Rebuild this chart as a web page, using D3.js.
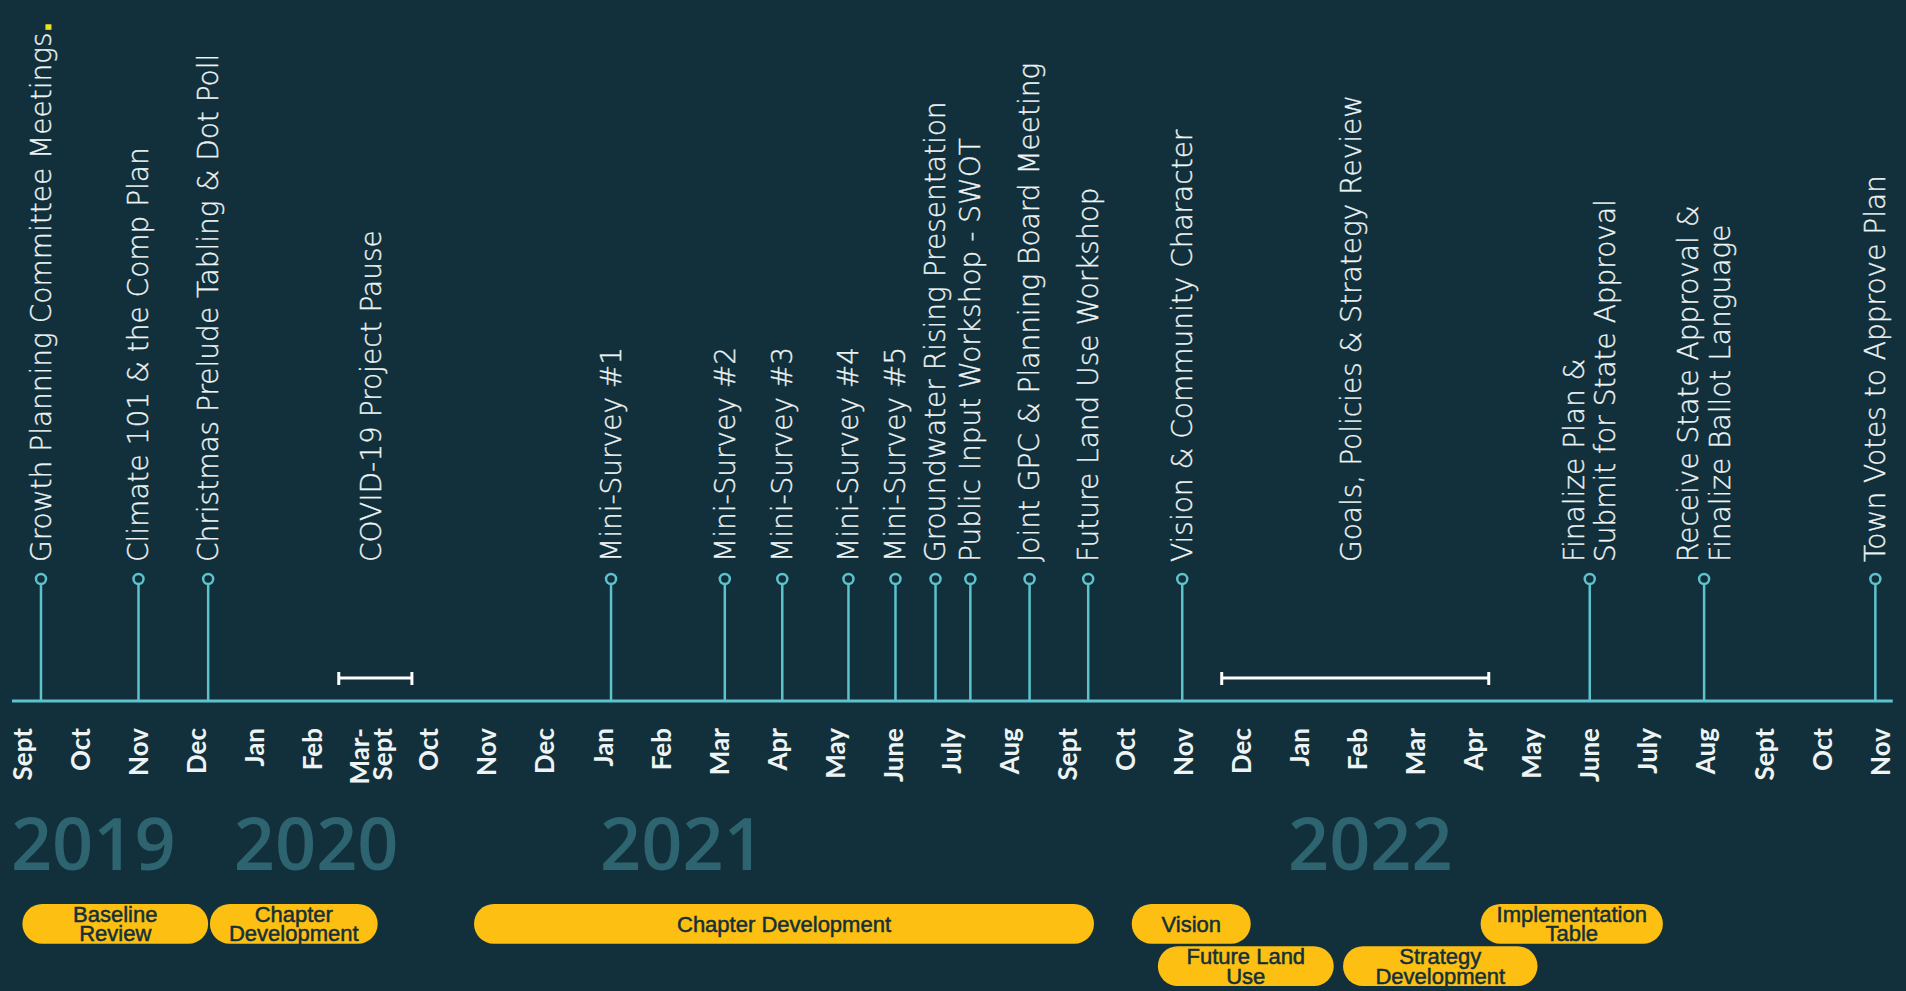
<!DOCTYPE html>
<html>
<head>
<meta charset="utf-8">
<script src="https://cdn.jsdelivr.net/npm/d3@7"></script>
<style>
  html, body { margin: 0; padding: 0; background: #12303b; overflow: hidden; }
  svg { display: block; }
</style>
</head>
<body>
<svg id="chart"></svg>
<script>
// month ticks along the timeline ("|" splits a label onto two lines)
const monthLabels = ['Sept', 'Oct', 'Nov', 'Dec', 'Jan', 'Feb', 'Mar-|Sept', 'Oct', 'Nov', 'Dec',
  'Jan', 'Feb', 'Mar', 'Apr', 'May', 'June', 'July', 'Aug', 'Sept', 'Oct', 'Nov', 'Dec',
  'Jan', 'Feb', 'Mar', 'Apr', 'May', 'June', 'July', 'Aug', 'Sept', 'Oct', 'Nov'];

const years = ['2019', '2020', '2021', '2022'];
const yearAt = [1.22, 5.06, 11.37, 23.22];

// milestones: position in month-steps from the first tick
const milestoneAt = [0.32, 2.0, 3.2, 10.14, 12.1, 13.09, 14.23, 15.04, 15.73, 16.33,
  17.35, 18.36, 19.98, 27.0, 28.97, 31.92];
const milestoneText = [
  'Growth Planning Committee Meetings',
  'Climate 101 & the Comp Plan',
  'Christmas Prelude Tabling & Dot Poll',
  'Mini-Survey #1',
  'Mini-Survey #2',
  'Mini-Survey #3',
  'Mini-Survey #4',
  'Mini-Survey #5',
  'Groundwater Rising Presentation',
  'Public Input Workshop - SWOT',
  'Joint GPC & Planning Board Meeting',
  'Future Land Use Workshop',
  'Vision & Community Character',
  'Finalize Plan &|Submit for State Approval',
  'Receive State Approval &|Finalize Ballot Language',
  'Town Votes to Approve Plan'
];

// spans drawn as brackets
const spanStart = [5.45, 20.66];
const spanEnd = [6.71, 25.26];
const spanText = ['COVID-19 Project Pause', 'Goals, Policies & Strategy Review'];

// project phases (pills)
const phaseText = ['Baseline|Review', 'Chapter|Development', 'Chapter Development', 'Vision',
  'Future Land|Use', 'Strategy|Development', 'Implementation|Table'];
const phaseStart = [0.0, 3.23, 7.78, 19.11, 19.56, 22.75, 25.12];
const phaseEnd = [3.2, 6.12, 18.46, 21.16, 22.59, 26.1, 28.26];
const phaseRow = [0, 0, 0, 0, 1, 1, 0];

const W = 1906, H = 991;
const COLORS = {
  bg: '#12303b',
  axis: '#5cc3cc',
  text: '#eef3f3',
  year: '#2e6470',
  pill: '#fdbf12',
  pillText: '#12303b'
};

const axisY = 701;
const markerY = 579;
const labelBase = 562;

const svg = d3.select('#chart')
  .attr('width', W)
  .attr('height', H);

svg.append('rect')
  .attr('width', W)
  .attr('height', H)
  .attr('fill', COLORS.bg);

const x = d3.scaleLinear()
  .domain([0, monthLabels.length - 1])
  .range([22.4, 1880]);

const rowY = d3.scaleBand()
  .domain([0, 1])
  .range([904, 986])
  .paddingInner(0.06);

// month axis
const axis = d3.axisBottom(x)
  .tickValues(d3.range(monthLabels.length))
  .tickSize(0)
  .tickFormat(i => monthLabels[i]);

const axisG = svg.append('g')
  .attr('transform', `translate(0,${axisY})`)
  .call(axis);

axisG.select('.domain').remove();

axisG.selectAll('.tick text')
  .attr('fill', COLORS.text)
  .style('font-family', 'Lato, "DejaVu Sans", sans-serif')
  .style('font-weight', 700)
  .style('font-size', '26px')
  .attr('transform', 'rotate(-90)')
  .attr('text-anchor', 'end')
  .attr('y', 0)
  .attr('x', -27)
  .attr('dy', null)
  .each(function(i) {
    const parts = monthLabels[i].split('|');
    const t = d3.select(this).text(null);
    parts.forEach((p, k) => {
      t.append('tspan')
        .attr('x', -27)
        .attr('dy', k === 0 ? `${0.35 - (parts.length - 1) * 0.45}em` : '0.9em')
        .text(p);
    });
  });

svg.append('line')
  .attr('x1', x(-0.18))
  .attr('x2', x(32.22))
  .attr('y1', axisY)
  .attr('y2', axisY)
  .attr('stroke', COLORS.axis)
  .attr('stroke-width', 3);

// years
svg.append('g')
  .selectAll('text')
  .data(years)
  .enter()
  .append('text')
  .attr('x', (d, i) => x(yearAt[i]))
  .attr('y', 870)
  .attr('text-anchor', 'middle')
  .attr('fill', COLORS.year)
  .style('font-family', '"Open Sans", "Noto Sans", sans-serif')
  .style('font-weight', 600)
  .style('font-size', '72px')
  .text(d => d);

// rotated labels, text starts just above the markers
const addLabel = (g, text, withDot) => {
  const parts = text.split('|');
  const t = g.append('text')
    .attr('transform', 'rotate(-90)')
    .attr('text-anchor', 'start')
    .attr('fill', COLORS.text)
    .attr('stroke', COLORS.text)
    .attr('stroke-width', 0.35)
    .style('font-family', '"DejaVu Sans", sans-serif')
    .style('font-weight', 200)
    .style('font-size', '28px');
  parts.forEach((p, k) => {
    t.append('tspan')
      .attr('x', 0)
      .attr('dy', k === 0 ? `${0.35 - (parts.length - 1) * 0.56}em` : '1.12em')
      .text(p);
  });
  if (withDot) {
    t.append('tspan')
      .attr('fill', '#f2e21c')
      .attr('stroke', '#f2e21c')
      .style('font-weight', 700)
      .text('.');
  }
};

const stems = svg.append('g')
  .selectAll('g')
  .data(milestoneAt)
  .enter()
  .append('g');

stems.append('line')
  .attr('x1', d => x(d))
  .attr('x2', d => x(d))
  .attr('y1', axisY)
  .attr('y2', markerY + 5)
  .attr('stroke', COLORS.axis)
  .attr('stroke-width', 2.5);

stems.append('circle')
  .attr('cx', d => x(d))
  .attr('cy', markerY)
  .attr('r', 5)
  .attr('fill', COLORS.bg)
  .attr('stroke', COLORS.axis)
  .attr('stroke-width', 2.5);

stems.each(function(d, i) {
  const g = d3.select(this).append('g')
    .attr('transform', `translate(${x(d)},${labelBase})`);
  addLabel(g, milestoneText[i], i === 0);
});

// bracket spans
const spans = svg.append('g')
  .selectAll('g')
  .data(spanStart)
  .enter()
  .append('g')
  .attr('stroke', '#ffffff')
  .attr('stroke-width', 3);

spans.append('line')
  .attr('x1', (d, i) => x(d))
  .attr('x2', (d, i) => x(spanEnd[i]))
  .attr('y1', 678)
  .attr('y2', 678);

spans.append('line')
  .attr('x1', d => x(d))
  .attr('x2', d => x(d))
  .attr('y1', 672)
  .attr('y2', 685);

spans.append('line')
  .attr('x1', (d, i) => x(spanEnd[i]))
  .attr('x2', (d, i) => x(spanEnd[i]))
  .attr('y1', 672)
  .attr('y2', 685);

spans.each(function(d, i) {
  const mid = (x(d) + x(spanEnd[i])) / 2 - 4;
  const g = svg.append('g')
    .attr('transform', `translate(${mid},${labelBase})`);
  addLabel(g, spanText[i], false);
});

// phase pills
const pills = svg.append('g')
  .selectAll('g')
  .data(phaseText)
  .enter()
  .append('g');

pills.append('rect')
  .attr('x', (d, i) => x(phaseStart[i]))
  .attr('y', (d, i) => rowY(phaseRow[i]))
  .attr('width', (d, i) => x(phaseEnd[i]) - x(phaseStart[i]))
  .attr('height', rowY.bandwidth())
  .attr('rx', rowY.bandwidth() / 2)
  .attr('fill', COLORS.pill);

pills.each(function(d, i) {
  const parts = d.split('|');
  const cx = (x(phaseStart[i]) + x(phaseEnd[i])) / 2;
  const cy = rowY(phaseRow[i]) + rowY.bandwidth() / 2;
  const t = d3.select(this).append('text')
    .attr('text-anchor', 'middle')
    .attr('fill', COLORS.pillText)
    .attr('stroke', COLORS.pillText)
    .attr('stroke-width', 0.5)
    .style('font-family', '"Liberation Sans", Arial, sans-serif')
    .style('font-size', '22px');
  parts.forEach((p, k) => {
    t.append('tspan')
      .attr('x', cx)
      .attr('y', cy + (k - (parts.length - 1) / 2) * 19.5)
      .attr('dy', '0.35em')
      .text(p);
  });
});
</script>
</body>
</html>
